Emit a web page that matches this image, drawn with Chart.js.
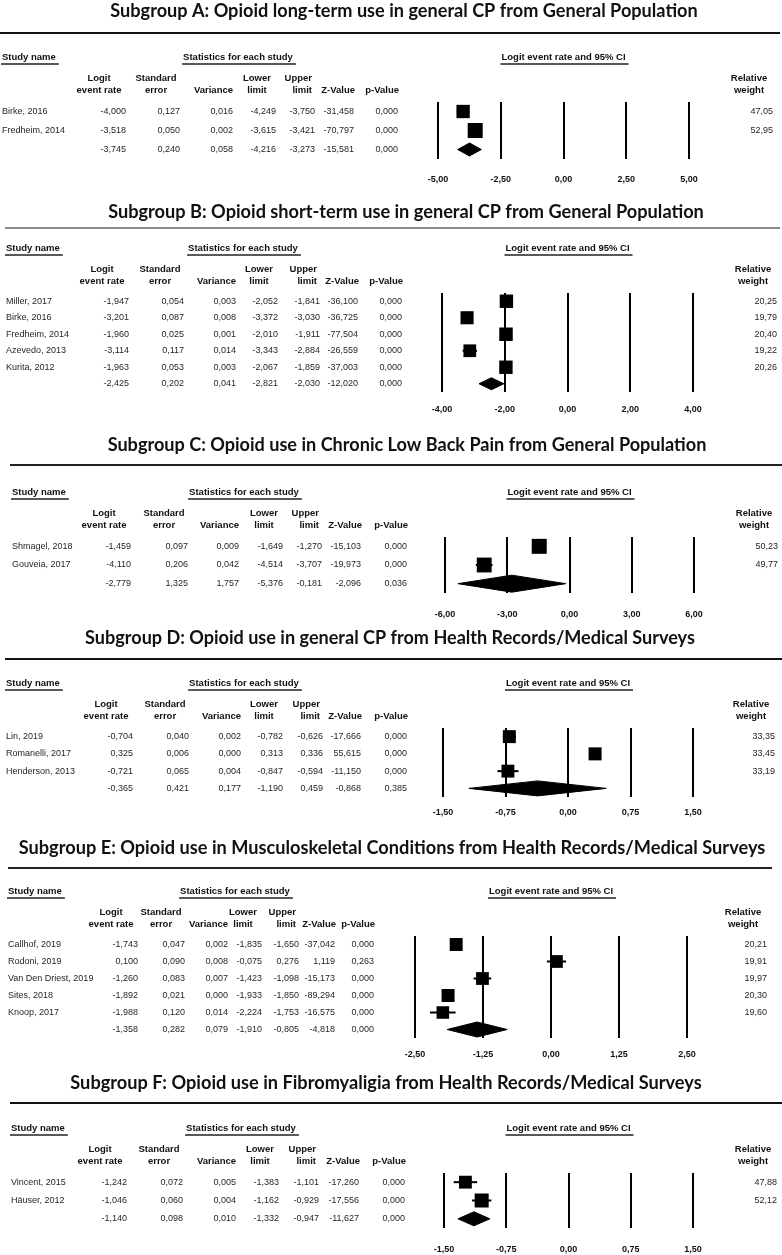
<!DOCTYPE html>
<html>
<head>
<meta charset="utf-8">
<script src="https://cdn.jsdelivr.net/npm/chart.js@4.4.1/dist/chart.umd.min.js"></script>
<style>
  html, body { margin: 0; padding: 0; background: #fff; }
  #page { position: relative; width: 782px; height: 1255px; overflow: hidden; }
  canvas { position: absolute; left: 0; }
</style>
</head>
<body>
<div id="page"></div>
<script>
// ---- data ----
const titles = [
  "Subgroup A: Opioid long-term use in general CP from General Population",
  "Subgroup B: Opioid short-term use in general CP from General Population",
  "Subgroup C: Opioid use in Chronic Low Back Pain from General Population",
  "Subgroup D: Opioid use in general CP from Health Records/Medical Surveys",
  "Subgroup E: Opioid use in Musculoskeletal Conditions from Health Records/Medical Surveys",
  "Subgroup F: Opioid use in Fibromyaligia from Health Records/Medical Surveys"
];

// last entry of each numeric array = pooled estimate
const studiesA = ["Birke, 2016", "Fredheim, 2014"];
const logitA = [-4.000, -3.518, -3.745];
const seA = [0.127, 0.050, 0.240];
const varianceA = [0.016, 0.002, 0.058];
const lowerA = [-4.249, -3.615, -4.216];
const upperA = [-3.750, -3.421, -3.273];
const zA = [-31.458, -70.797, -15.581];
const pA = [0.000, 0.000, 0.000];
const weightA = [47.05, 52.95];
const ticksA = [-5, -2.5, 0, 2.5, 5];

const studiesB = ["Miller, 2017", "Birke, 2016", "Fredheim, 2014", "Azevedo, 2013", "Kurita, 2012"];
const logitB = [-1.947, -3.201, -1.960, -3.114, -1.963, -2.425];
const seB = [0.054, 0.087, 0.025, 0.117, 0.053, 0.202];
const varianceB = [0.003, 0.008, 0.001, 0.014, 0.003, 0.041];
const lowerB = [-2.052, -3.372, -2.010, -3.343, -2.067, -2.821];
const upperB = [-1.841, -3.030, -1.911, -2.884, -1.859, -2.030];
const zB = [-36.100, -36.725, -77.504, -26.559, -37.003, -12.020];
const pB = [0.000, 0.000, 0.000, 0.000, 0.000, 0.000];
const weightB = [20.25, 19.79, 20.40, 19.22, 20.26];
const ticksB = [-4, -2, 0, 2, 4];

const studiesC = ["Shmagel, 2018", "Gouveia, 2017"];
const logitC = [-1.459, -4.110, -2.779];
const seC = [0.097, 0.206, 1.325];
const varianceC = [0.009, 0.042, 1.757];
const lowerC = [-1.649, -4.514, -5.376];
const upperC = [-1.270, -3.707, -0.181];
const zC = [-15.103, -19.973, -2.096];
const pC = [0.000, 0.000, 0.036];
const weightC = [50.23, 49.77];
const ticksC = [-6, -3, 0, 3, 6];

const studiesD = ["Lin, 2019", "Romanelli, 2017", "Henderson, 2013"];
const logitD = [-0.704, 0.325, -0.721, -0.365];
const seD = [0.040, 0.006, 0.065, 0.421];
const varianceD = [0.002, 0.000, 0.004, 0.177];
const lowerD = [-0.782, 0.313, -0.847, -1.190];
const upperD = [-0.626, 0.336, -0.594, 0.459];
const zD = [-17.666, 55.615, -11.150, -0.868];
const pD = [0.000, 0.000, 0.000, 0.385];
const weightD = [33.35, 33.45, 33.19];
const ticksD = [-1.5, -0.75, 0, 0.75, 1.5];

const studiesE = ["Callhof, 2019", "Rodoni, 2019", "Van Den Driest, 2019", "Sites, 2018", "Knoop, 2017"];
const logitE = [-1.743, 0.100, -1.260, -1.892, -1.988, -1.358];
const seE = [0.047, 0.090, 0.083, 0.021, 0.120, 0.282];
const varianceE = [0.002, 0.008, 0.007, 0.000, 0.014, 0.079];
const lowerE = [-1.835, -0.075, -1.423, -1.933, -2.224, -1.910];
const upperE = [-1.650, 0.276, -1.098, -1.850, -1.753, -0.805];
const zE = [-37.042, 1.119, -15.173, -89.294, -16.575, -4.818];
const pE = [0.000, 0.263, 0.000, 0.000, 0.000, 0.000];
const weightE = [20.21, 19.91, 19.97, 20.30, 19.60];
const ticksE = [-2.5, -1.25, 0, 1.25, 2.5];

const studiesF = ["Vincent, 2015", "Häuser, 2012"];
const logitF = [-1.242, -1.046, -1.140];
const seF = [0.072, 0.060, 0.098];
const varianceF = [0.005, 0.004, 0.010];
const lowerF = [-1.383, -1.162, -1.332];
const upperF = [-1.101, -0.929, -0.947];
const zF = [-17.260, -17.556, -11.627];
const pF = [0.000, 0.000, 0.000];
const weightF = [47.88, 52.12];
const ticksF = [-1.5, -0.75, 0, 0.75, 1.5];

// ---- page layout for each panel (page pixels) ----
const layouts = [
  { y0: 0, y1: 197, titleX: 404, titleY: 11, titleW: 588, hrY: 33, hrX0: 0, hrX1: 780, hrColor: "#111",
    plotTop: 102, plotBottom: 159, xLeft: 438, xRight: 689, tickY: 180,
    studyX: 2, cols: [126, 180, 233, 276, 315, 354, 398], wEnd: 773, statsX: 238, sq: 15, dh: 6.5 },
  { y0: 197, y1: 425, titleX: 406, titleY: 212, titleW: 596, hrY: 228, hrX0: 5, hrX1: 780, hrColor: "#8a8a8a",
    plotTop: 293, plotBottom: 392, xLeft: 442, xRight: 693, tickY: 410,
    studyX: 6, cols: [129, 184, 236, 278, 320, 358, 402], wEnd: 777, statsX: 243, sq: 13.5, dh: 6 },
  { y0: 425, y1: 625, titleX: 407, titleY: 445, titleW: 599, hrY: 465, hrX0: 10, hrX1: 782, hrColor: "#222",
    plotTop: 537, plotBottom: 593, xLeft: 445, xRight: 694, tickY: 615,
    studyX: 12, cols: [131, 188, 239, 283, 322, 361, 407], wEnd: 778, statsX: 244, sq: 15, dh: 8.5 },
  { y0: 625, y1: 825, titleX: 390, titleY: 638, titleW: 610, hrY: 659, hrX0: 5, hrX1: 782, hrColor: "#111",
    plotTop: 728, plotBottom: 797, xLeft: 443, xRight: 693, tickY: 813,
    studyX: 6, cols: [133, 189, 241, 283, 323, 361, 407], wEnd: 775, statsX: 244, sq: 13, dh: 7.5 },
  { y0: 825, y1: 1065, titleX: 392, titleY: 848, titleW: 747, hrY: 868, hrX0: 8, hrX1: 772, hrColor: "#222",
    plotTop: 936, plotBottom: 1038, xLeft: 415, xRight: 687, tickY: 1055,
    studyX: 8, cols: [138, 185, 228, 262, 299, 335, 374], wEnd: 767, statsX: 235, sq: 13, dh: 7.5 },
  { y0: 1065, y1: 1255, titleX: 386, titleY: 1083, titleW: 632, hrY: 1103, hrX0: 10, hrX1: 782, hrColor: "#111",
    plotTop: 1173, plotBottom: 1228, xLeft: 444, xRight: 693, tickY: 1250,
    studyX: 11, cols: [127, 183, 236, 279, 319, 359, 405], wEnd: 777, statsX: 241, sq: 14, dh: 7 }
];

const panels = [
  { studies: studiesA, logit: logitA, se: seA, variance: varianceA, lower: lowerA, upper: upperA, z: zA, p: pA, weight: weightA, ticks: ticksA },
  { studies: studiesB, logit: logitB, se: seB, variance: varianceB, lower: lowerB, upper: upperB, z: zB, p: pB, weight: weightB, ticks: ticksB },
  { studies: studiesC, logit: logitC, se: seC, variance: varianceC, lower: lowerC, upper: upperC, z: zC, p: pC, weight: weightC, ticks: ticksC },
  { studies: studiesD, logit: logitD, se: seD, variance: varianceD, lower: lowerD, upper: upperD, z: zD, p: pD, weight: weightD, ticks: ticksD },
  { studies: studiesE, logit: logitE, se: seE, variance: varianceE, lower: lowerE, upper: upperE, z: zE, p: pE, weight: weightE, ticks: ticksE },
  { studies: studiesF, logit: logitF, se: seF, variance: varianceF, lower: lowerF, upper: upperF, z: zF, p: pF, weight: weightF, ticks: ticksF }
];

const fmt = (v, d) => v.toFixed(d).replace(".", ",");
const FONT = '"Liberation Sans", Arial, sans-serif';
const TICK_FS = 9;

// header cells: [line1, line2], alignment, offset from column right edge
const colHeads = [
  { h: ["Logit", "event rate"], align: "center", off: -27 },
  { h: ["Standard", "error"], align: "center", off: -24 },
  { h: ["", "Variance"], align: "right", off: 0 },
  { h: ["Lower", "limit"], align: "center", off: -19 },
  { h: ["Upper", "limit"], align: "right", off: -3 },
  { h: ["", "Z-Value"], align: "right", off: 1 },
  { h: ["", "p-Value"], align: "right", off: 1 }
];

// draws title, rule, table text and weights around the plot
function tablePlugin(d, L, title) {
  return {
    id: "forestTable",
    afterDraw(chart) {
      const ctx = chart.ctx;
      const ys = chart.scales.y;
      const xs = chart.scales.x;
      const top = chart.chartArea.top;
      const y0 = L.y0;
      ctx.save();

      // title
      ctx.fillStyle = "#111";
      ctx.textAlign = "center";
      ctx.textBaseline = "middle";
      ctx.font = "bold 17px Lato";
      const fs = 17 * L.titleW / ctx.measureText(title).width;
      ctx.font = "bold " + fs.toFixed(2) + "px Lato";
      ctx.fillText(title, L.titleX, L.titleY - y0);

      // horizontal rule
      ctx.strokeStyle = L.hrColor;
      ctx.lineWidth = 2;
      ctx.beginPath();
      ctx.moveTo(L.hrX0, L.hrY - y0);
      ctx.lineTo(L.hrX1, L.hrY - y0);
      ctx.stroke();

      // underlined group headers
      ctx.font = "bold 9.5px " + FONT;
      ctx.fillStyle = "#111";
      ctx.strokeStyle = "#222";
      ctx.lineWidth = 1.3;
      const underlined = (txt, x, y, align) => {
        const w = ctx.measureText(txt).width;
        const x0 = align === "center" ? x - w / 2 : x;
        ctx.textAlign = "left";
        ctx.fillText(txt, x0, y);
        ctx.beginPath();
        ctx.moveTo(x0 - 1, y + 7);
        ctx.lineTo(x0 + w + 3, y + 7);
        ctx.stroke();
      };
      underlined("Study name", L.studyX, top - 45, "left");
      underlined("Statistics for each study", L.statsX, top - 45, "center");
      underlined("Logit event rate and 95% CI", (xs.left + xs.right) / 2, top - 45, "center");

      // column headers
      colHeads.forEach((c, i) => {
        ctx.textAlign = c.align;
        const x = L.cols[i] + c.off;
        if (c.h[0]) ctx.fillText(c.h[0], x, top - 24);
        ctx.fillText(c.h[1], x, top - 12);
      });
      ctx.textAlign = "center";
      ctx.fillText("Relative", L.wEnd - 24, top - 24);
      ctx.fillText("weight", L.wEnd - 24, top - 12);

      // rows
      ctx.font = "9px " + FONT;
      ctx.fillStyle = "#262626";
      const cols = [d.logit, d.se, d.variance, d.lower, d.upper, d.z, d.p];
      for (let i = 0; i < d.logit.length; i++) {
        const y = ys.getPixelForValue(i);
        if (i < d.studies.length) {
          ctx.textAlign = "left";
          ctx.fillText(d.studies[i], L.studyX, y);
          ctx.textAlign = "right";
          ctx.fillText(fmt(d.weight[i], 2), L.wEnd, y);
        }
        ctx.textAlign = "right";
        cols.forEach((arr, k) => ctx.fillText(fmt(arr[i], 3), L.cols[k], y));
      }
      ctx.restore();
    }
  };
}

function buildPanel(d, L, title) {
  const page = document.getElementById("page");
  const canvas = document.createElement("canvas");
  const h = L.y1 - L.y0;
  canvas.width = 782;
  canvas.height = h;
  canvas.style.top = L.y0 + "px";
  canvas.style.width = "782px";
  canvas.style.height = h + "px";
  page.appendChild(canvas);

  const nRows = d.logit.length;
  const s = d.studies.length; // index of pooled row
  const rowPx = (L.plotBottom - L.plotTop) / nRows;
  const dh = L.dh / rowPx;
  const maxW = Math.max(...d.weight);

  const datasets = [];
  // confidence intervals
  d.studies.forEach((_, i) => {
    datasets.push({
      type: "scatter",
      showLine: true,
      data: [{ x: d.lower[i], y: i }, { x: d.upper[i], y: i }],
      borderColor: "#000",
      borderWidth: 2,
      pointRadius: 0,
      clip: false
    });
  });
  // study squares
  datasets.push({
    type: "scatter",
    data: d.studies.map((_, i) => ({ x: d.logit[i], y: i })),
    pointStyle: "rect",
    pointRadius: d.weight.map(w => (L.sq * w / maxW) / 2 / Math.SQRT1_2),
    backgroundColor: "#000",
    borderWidth: 0,
    clip: false
  });
  // pooled diamond
  datasets.push({
    type: "scatter",
    showLine: true,
    data: [
      { x: d.lower[s], y: s },
      { x: d.logit[s], y: s - dh },
      { x: d.upper[s], y: s },
      { x: d.logit[s], y: s + dh },
      { x: d.lower[s], y: s }
    ],
    fill: "shape",
    backgroundColor: "#000",
    borderColor: "#000",
    borderWidth: 1,
    pointRadius: 0,
    clip: false
  });

  new Chart(canvas, {
    type: "scatter",
    data: { datasets },
    options: {
      responsive: false,
      animation: false,
      events: [],
      layout: {
        padding: { left: L.xLeft, right: 782 - L.xRight, top: L.plotTop - L.y0, bottom: 0 }
      },
      plugins: { legend: { display: false }, tooltip: { enabled: false } },
      scales: {
        x: {
          type: "linear",
          min: d.ticks[0],
          max: d.ticks[d.ticks.length - 1],
          afterBuildTicks: sc => { sc.ticks = d.ticks.map(v => ({ value: v })); },
          afterFit: sc => { sc.height = L.y1 - L.plotBottom; },
          grid: { color: "#000", lineWidth: 2, drawTicks: false },
          border: { display: false },
          ticks: {
            padding: L.tickY - L.plotBottom - TICK_FS * 0.6,
            maxRotation: 0,
            autoSkip: false,
            color: "#111",
            font: { family: FONT, size: TICK_FS, weight: "bold" },
            callback: v => fmt(v, 2)
          }
        },
        y: { type: "linear", reverse: true, min: -0.5, max: nRows - 0.5, display: false }
      }
    },
    plugins: [tablePlugin(d, L, title)]
  });
}

panels.forEach((d, i) => buildPanel(d, layouts[i], titles[i]));
</script>
</body>
</html>
